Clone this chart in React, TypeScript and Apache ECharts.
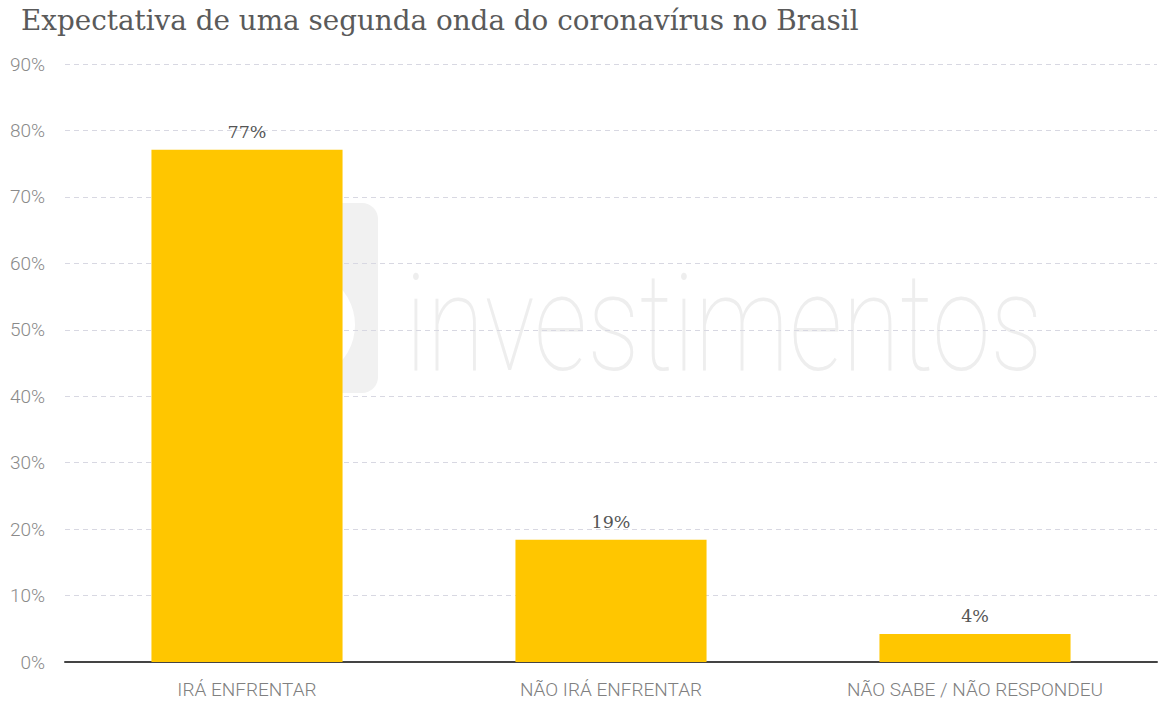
import React, { useEffect, useRef } from "react";
import * as echarts from "echarts";

const TITLE = "Expectativa de uma segunda onda do coronavírus no Brasil";
const categories = ["IRÁ ENFRENTAR", "NÃO IRÁ ENFRENTAR", "NÃO SABE / NÃO RESPONDEU"];
const values = [77.1, 18.4, 4.2];
const valueLabels = ["77%", "19%", "4%"];
const WATERMARK = "investimentos";

export default function App() {
  const ref = useRef<HTMLDivElement>(null);
  useEffect(() => {
    if (!ref.current) return;
    const chart = echarts.init(ref.current, null, { renderer: "svg" });
    chart.setOption({
      animation: false,
      backgroundColor: "#ffffff",
      title: {
        text: TITLE,
        left: 16,
        top: 1,
        textStyle: {
          fontFamily: "DejaVu Serif",
          fontWeight: "normal",
          fontSize: 27.8,
          color: "#5a5a5a",
        },
      },
      graphic: [
        {
          type: "rect",
          z: -10,
          silent: true,
          shape: { x: 290, y: 203, width: 88, height: 190, r: 16 },
          style: { fill: "#f1f1f1" },
        },
        {
          type: "circle",
          z: -9,
          silent: true,
          shape: { cx: 300, cy: 325, r: 55 },
          style: { fill: "#ffffff" },
        },
        {
          type: "text",
          z: -10,
          silent: true,
          x: 405,
          y: 392,
          scaleX: 0.775,
          style: {
            text: WATERMARK,
            fontFamily: "Roboto",
            fontWeight: 100,
            fontSize: 136,
            fill: "#eeeeee",
            textVerticalAlign: "bottom",
            verticalAlign: "bottom",
          },
        },
      ],
      grid: { left: 65, right: 12, top: 64, bottom: 46, containLabel: false },
      xAxis: {
        type: "category",
        data: categories,
        axisLine: { show: true, lineStyle: { color: "#444444", width: 2 } },
        axisTick: { show: false },
        axisLabel: {
          margin: 18,
          fontFamily: "Roboto",
          fontWeight: 300,
          fontSize: 19,
          color: "#808080",
        },
      },
      yAxis: {
        type: "value",
        min: 0,
        max: 90,
        interval: 10,
        axisLine: { show: false },
        axisTick: { show: false },
        axisLabel: {
          margin: 20,
          formatter: "{value}%",
          fontFamily: "Roboto",
          fontWeight: 300,
          fontSize: 19,
          color: "#8a8a8a",
        },
        splitLine: {
          show: true,
          lineStyle: { color: "#d8d8e2", width: 1, type: [5, 4] },
        },
      },
      series: [
        {
          type: "bar",
          data: values,
          barWidth: "52.5%",
          itemStyle: { color: "#ffc600" },
          label: {
            show: true,
            position: "top",
            distance: 9,
            formatter: (p: any) => valueLabels[p.dataIndex],
            fontFamily: "DejaVu Serif",
            fontSize: 17.5,
            color: "#555555",
          },
        },
      ],
    });
    return () => chart.dispose();
  }, []);
  return (
    <div
      ref={ref}
      style={{ position: "absolute", left: 0, top: 0, width: 1169, height: 708 }}
    />
  );
}
